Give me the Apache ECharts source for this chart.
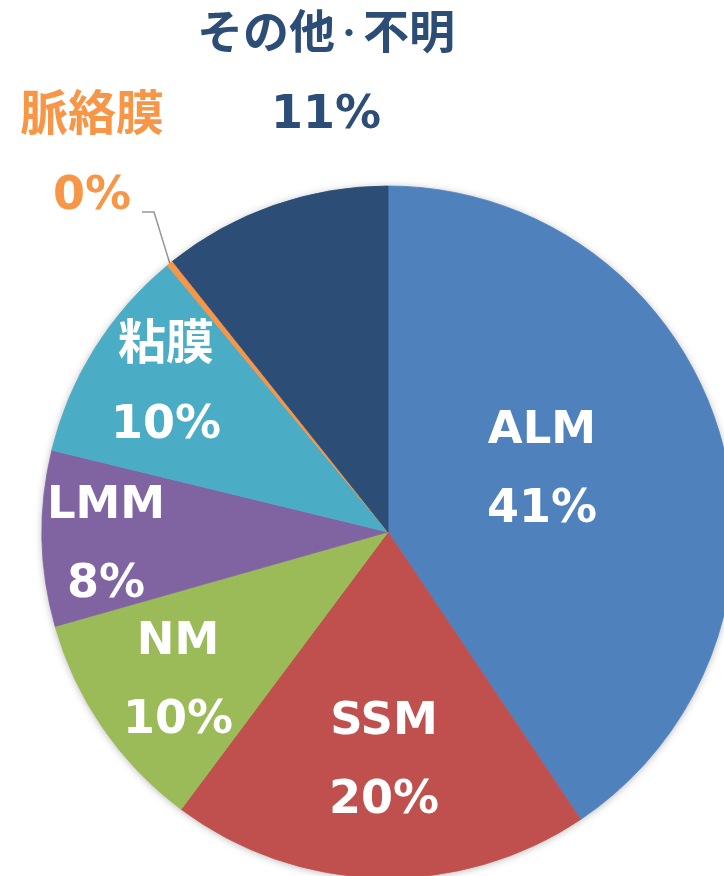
<!DOCTYPE html>
<html>
<head>
<meta charset="utf-8">
<script src="https://cdn.jsdelivr.net/npm/echarts@6/dist/echarts.min.js"></script>
<style>
html,body{margin:0;padding:0;background:#fff;}
#c{width:724px;height:876px;}
</style>
</head>
<body>
<div id="c"></div>
<script>
var categories = ['ALM', 'SSM', 'NM', 'LMM', '粘膜', '脈絡膜', 'その他・不明'];
var values = [40.6, 19.6, 10.4, 8.2, 10.2, 0.3, 10.7];
var colors = ['#4F81BD', '#C0504D', '#9BBB59', '#8064A2', '#4BACC6', '#F79646', '#2C4D75'];
var labelColors = ['#fff', '#fff', '#fff', '#fff', '#fff', '#F79646', '#2C4D75'];
// label block centres (layout only)
var labelPos = [[542, 471], [384, 762], [178, 682], [106, 546], [166, 386], [92, 157], [326, 76]];

var FONT = '"DejaVu Sans", "Noto Sans CJK JP", sans-serif';
var chart = echarts.init(document.getElementById('c'), null, {renderer: 'canvas'});

function richFor(col, jSize) {
  return {
    n: {fontSize: 45, lineHeight: 79, fontWeight: 'bold', color: col, fontFamily: FONT},
    j: {fontSize: jSize, lineHeight: 81, fontWeight: 'bold', color: col, fontFamily: FONT},
    d: {fontSize: 28, lineHeight: 81, fontWeight: 'bold', color: col, fontFamily: FONT},
    p: {fontSize: 46, lineHeight: 79, fontWeight: 'bold', color: col, fontFamily: FONT}
  };
}

var data = categories.map(function (c, i) {
  var outside = i >= 5;
  return {
    name: c,
    value: values[i],
    itemStyle: {color: colors[i], borderColor: colors[i], borderWidth: 0.8},
    label: {
      show: true,
      position: outside ? 'outside' : 'inside',
      rich: richFor(labelColors[i], i === 6 ? 46 : 48)
    },
    labelLine: {show: i === 5, lineStyle: {color: '#969696', width: 1.5}}
  };
});

function fmt(params) {
  var name = params.name;
  var nameStr;
  if (/[^\x00-\x7f]/.test(name)) {
    nameStr = name.split('・').map(function (s) { return '{j|' + s + '}'; }).join('{d|・}');
  } else {
    nameStr = '{n|' + name + '}';
  }
  return nameStr + '\n{p|' + params.percent + '%}';
}

chart.setOption({
  animation: false,
  series: [
    {
      type: 'pie',
      silent: true,
      center: [388, 532],
      radius: 345,
      label: {show: false},
      labelLine: {show: false},
      itemStyle: {color: '#ffffff', borderWidth: 0, shadowBlur: 8, shadowColor: 'rgba(0,0,0,0.35)', shadowOffsetX: 0, shadowOffsetY: 1},
      data: [{value: 1, name: 'bg'}]
    },
    {
      type: 'pie',
      center: [388, 532],
      radius: 346,
      startAngle: 90,
      clockwise: true,
      percentPrecision: 0,
      avoidLabelOverlap: false,
      label: {
        formatter: fmt
      },
      labelLayout: function (params) {
        var p = labelPos[params.dataIndex];
        var out = {x: p[0], y: p[1], align: 'center', verticalAlign: 'middle'};
        if (params.dataIndex === 5) {
          out.labelLinePoints = [[170, 264], [154, 212], [142, 212]];
        }
        return out;
      },
      data: data
    }
  ]
});
</script>
</body>
</html>
